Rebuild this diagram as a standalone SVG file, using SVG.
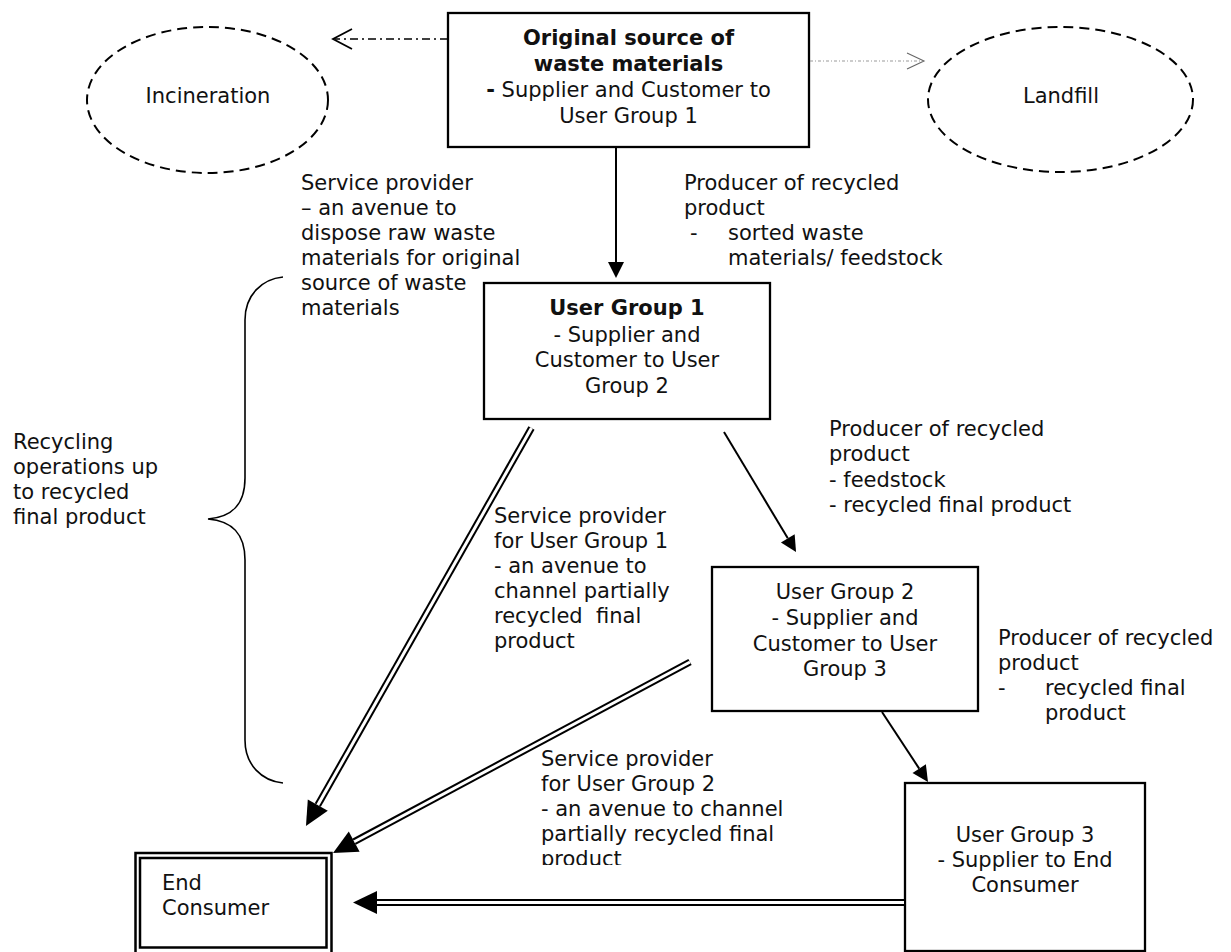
<svg xmlns="http://www.w3.org/2000/svg" width="1231" height="952" viewBox="0 0 1231 952">
  <style>
    text { font-family: "DejaVu Sans", "Liberation Sans", sans-serif; font-size: 21px; fill: #111; }
    .c { text-anchor: middle; }
    .b { font-weight: bold; }
    .box { fill: #fff; stroke: #000; stroke-width: 2.3; }
    .oval { fill: none; stroke: #000; stroke-width: 2; stroke-dasharray: 10 6; }
    .single { stroke: #000; stroke-width: 2; fill: none; }
    .dbl-outer { stroke: #000; stroke-width: 7; fill: none; }
    .dbl-inner { stroke: #fff; stroke-width: 3; fill: none; }
    .brace { fill: none; stroke: #000; stroke-width: 1.6; }
  </style>
  <defs>
    <marker id="head" markerUnits="userSpaceOnUse" markerWidth="20" markerHeight="20" refX="0" refY="0" viewBox="0 -10 20 20" orient="auto" overflow="visible">
      <path d="M0,-8 L16,0 L0,8 z" fill="#000"/>
    </marker>
    <marker id="head-big" markerUnits="userSpaceOnUse" markerWidth="30" markerHeight="30" refX="0" refY="0" viewBox="0 -15 30 30" orient="auto" overflow="visible">
      <path d="M0,-11.5 L24,0 L0,11.5 z" fill="#000"/>
    </marker>
    <clipPath id="clip-sp2">
      <rect x="530" y="740" width="300" height="125"/>
    </clipPath>
  </defs>

  <rect width="1231" height="952" fill="#fff"/>

  <!-- disposal outlets -->
  <g id="incineration">
    <ellipse class="oval" cx="207.5" cy="100" rx="120.5" ry="73"/>
    <text class="c" x="208" y="103">Incineration</text>
  </g>
  <g id="landfill">
    <ellipse class="oval" cx="1060.5" cy="99.5" rx="132.5" ry="72.5"/>
    <text class="c" x="1061" y="103">Landfill</text>
  </g>

  <!-- supply chain nodes -->
  <g id="original-source">
    <rect class="box" x="448" y="13" width="361" height="134"/>
    <text class="c b" x="628.5" y="45">Original source of</text>
    <text class="c b" x="628.5" y="71">waste materials</text>
    <text class="c" x="628.5" y="97"><tspan class="b">-</tspan> Supplier and Customer to</text>
    <text class="c" x="628.5" y="123">User Group 1</text>
  </g>

  <g id="user-group-1">
    <rect class="box" x="484" y="283" width="286" height="136"/>
    <text class="c b" x="627" y="315">User Group 1</text>
    <text class="c" x="627" y="342">- Supplier and</text>
    <text class="c" x="627" y="367">Customer to User</text>
    <text class="c" x="627" y="393">Group 2</text>
  </g>

  <g id="user-group-2">
    <rect class="box" x="712" y="567" width="266" height="144"/>
    <text class="c" x="845" y="599">User Group 2</text>
    <text class="c" x="845" y="625">- Supplier and</text>
    <text class="c" x="845" y="651">Customer to User</text>
    <text class="c" x="845" y="676">Group 3</text>
  </g>

  <g id="user-group-3">
    <rect class="box" x="905" y="783" width="240" height="168"/>
    <text class="c" x="1025" y="842">User Group 3</text>
    <text class="c" x="1025" y="867">- Supplier to End</text>
    <text class="c" x="1025" y="892">Consumer</text>
  </g>

  <g id="end-consumer">
    <rect x="135.5" y="853" width="196" height="102" fill="#fff" stroke="#000" stroke-width="2.5"/>
    <rect x="140" y="858" width="186.5" height="89.5" fill="none" stroke="#000" stroke-width="2.5"/>
    <text x="162" y="890">End</text>
    <text x="162" y="915">Consumer</text>
  </g>

  <!-- connectors -->
  <g id="connectors">
    <!-- to incineration: dash-dot line with open head -->
    <line x1="448" y1="39" x2="335" y2="39" stroke="#000" stroke-width="1.6" stroke-dasharray="8 4 2 4"/>
    <polyline points="352,29 333,39 352,49" fill="none" stroke="#000" stroke-width="1.8"/>
    <!-- to landfill: fine grey dotted line with open head -->
    <line x1="810" y1="61" x2="922" y2="61" stroke="#999" stroke-width="1.2" stroke-dasharray="3 2 1 2"/>
    <polyline points="907,53 924,61 907,69" fill="none" stroke="#666" stroke-width="1.1"/>

    <!-- material flow -->
    <line class="single" x1="616" y1="147" x2="616" y2="262" marker-end="url(#head)"/>
    <line class="single" x1="724" y1="432" x2="787.8" y2="538.3" marker-end="url(#head)"/>
    <line class="single" x1="882" y1="712" x2="919.2" y2="768.6" marker-end="url(#head)"/>

    <!-- service channels to end consumer (double lines) -->
    <line class="dbl-outer" x1="531.5" y1="428" x2="317.8" y2="805.1" marker-end="url(#head-big)"/>
    <line class="dbl-inner" x1="531.5" y1="428" x2="317.8" y2="805.1"/>
    <line class="dbl-outer" x1="690" y1="662" x2="354.2" y2="841.7" marker-end="url(#head-big)"/>
    <line class="dbl-inner" x1="690" y1="662" x2="354.2" y2="841.7"/>
    <line class="dbl-outer" x1="904" y1="902.5" x2="377" y2="902.5" marker-end="url(#head-big)"/>
    <line class="dbl-inner" x1="904" y1="902.5" x2="377" y2="902.5"/>
  </g>

  <!-- brace spanning the recycling operations -->
  <g id="recycling-brace">
    <path class="brace" d="M283,277 C262,279 245,295 245,320 L245,478 C245,505 232,517 208,519 C232,521 245,533 245,560 L245,740 C245,765 262,781 283,783"/>
    <text x="13" y="449">Recycling</text>
    <text x="13" y="474">operations up</text>
    <text x="13" y="499">to recycled</text>
    <text x="13" y="524">final product</text>
  </g>

  <!-- role labels -->
  <g id="label-service-source">
    <text x="301" y="190">Service provider</text>
    <text x="301" y="215">– an avenue to</text>
    <text x="301" y="240">dispose raw waste</text>
    <text x="301" y="265">materials for original</text>
    <text x="301" y="290">source of waste</text>
    <text x="301" y="315">materials</text>
  </g>
  <g id="label-producer-1">
    <text x="684" y="190">Producer of recycled</text>
    <text x="684" y="215">product</text>
    <text y="240"><tspan x="690">-</tspan><tspan x="728">sorted waste</tspan></text>
    <text x="728" y="265">materials/ feedstock</text>
  </g>
  <g id="label-producer-2">
    <text x="829" y="436">Producer of recycled</text>
    <text x="829" y="461">product</text>
    <text x="829" y="487">- feedstock</text>
    <text x="829" y="512">- recycled final product</text>
  </g>
  <g id="label-service-ug1">
    <text x="494" y="523">Service provider</text>
    <text x="494" y="548">for User Group 1</text>
    <text x="494" y="573">- an avenue to</text>
    <text x="494" y="598">channel partially</text>
    <text x="494" y="623" xml:space="preserve">recycled  final</text>
    <text x="494" y="648">product</text>
  </g>
  <g id="label-producer-3">
    <text x="998" y="645">Producer of recycled</text>
    <text x="998" y="670">product</text>
    <text y="695"><tspan x="998">-</tspan><tspan x="1045">recycled final</tspan></text>
    <text x="1045" y="720">product</text>
  </g>
  <g id="label-service-ug2" clip-path="url(#clip-sp2)">
    <text x="541" y="766">Service provider</text>
    <text x="541" y="791">for User Group 2</text>
    <text x="541" y="816">- an avenue to channel</text>
    <text x="541" y="841">partially recycled final</text>
    <text x="541" y="866">product</text>
  </g>
</svg>
